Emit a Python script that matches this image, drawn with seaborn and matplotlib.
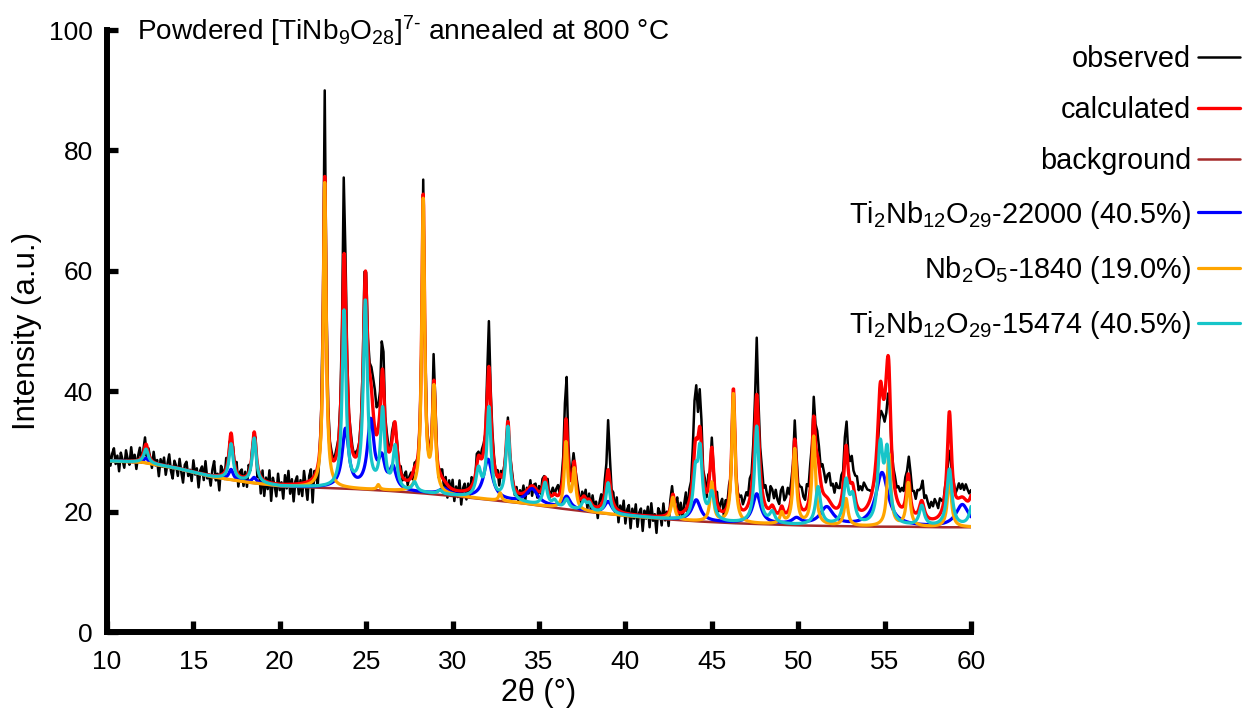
import numpy as np
import pandas as pd
import matplotlib
matplotlib.use("Agg")
import matplotlib.pyplot as plt
import seaborn as sns

# ---------------- data ----------------
x_limits = [10, 60]
y_limits = [0, 100]
x_ticks = [10, 15, 20, 25, 30, 35, 40, 45, 50, 55, 60]
y_ticks = [0, 20, 40, 60, 80, 100]

# background polyline
bg_x = [10, 12, 14, 16, 18, 20, 22, 24, 26, 28, 30, 32, 34, 36, 38, 40, 42, 44, 46, 48, 50, 52, 54, 56, 58, 60]
bg_y = [28.4, 28.2, 27.2, 25.8, 24.9, 24.2, 24.0, 23.8, 23.5, 23.1, 22.6, 22.0, 21.4, 20.6, 19.9, 19.3,
        18.8, 18.4, 18.1, 17.9, 17.7, 17.6, 17.5, 17.5, 17.4, 17.4]

# Ti2Nb12O29-22000 phase peaks (position, height above background, FWHM)
blue_pos = [12.26, 17.18, 18.52, 23.8, 25.26, 25.9, 26.55, 29.5, 32.05, 34.6, 36.6, 39.0, 44.1, 47.6, 49.9, 51.65, 54.85, 59.5]
blue_hgt = [0.8, 1.7, 0.9, 9.7, 11.1, 4.5, 3.5, 1.0, 6.6, 2.5, 2.0, 2.0, 3.5, 4.9, 1.0, 3.0, 8.9, 3.7]
blue_fwhm = [0.3, 0.3, 0.3, 0.45, 0.45, 0.42, 0.45, 0.6, 0.6, 0.8, 0.5, 0.5, 0.6, 0.55, 0.6, 0.9, 0.85, 0.9]

# Nb2O5-1840 phase peaks
orange_pos = [22.6, 25.7, 28.3, 28.92, 32.75, 36.56, 37.04, 42.75, 45.0, 46.25, 49.05, 49.8, 50.9, 52.77, 55.25, 56.37, 58.75]
orange_hgt = [50.7, 0.8, 48.5, 17.0, 1.3, 10.9, 6.5, 3.7, 6.5, 21.6, 1.8, 12.5, 14.7, 4.5, 12.0, 7.2, 8.4]
orange_fwhm = [0.2, 0.18, 0.2, 0.22, 0.18, 0.22, 0.22, 0.24, 0.24, 0.22, 0.24, 0.24, 0.25, 0.26, 0.26, 0.26, 0.26]

# Ti2Nb12O29-15474 phase peaks
cyan_pos = [12.26, 17.18, 18.52, 23.72, 24.95, 25.95, 26.67, 27.8, 29.27, 31.5, 32.1, 33.2, 35.35, 35.9, 36.6,
            37.6, 37.9, 39.0, 44.05, 44.32, 45.0, 47.6, 48.5, 51.15, 52.77, 53.15, 54.75, 55.15, 57.15, 58.75, 60.1]
cyan_hgt = [2.3, 5.9, 7.4, 29.2, 31.0, 13.0, 7.0, 1.5, 0.6, 4.5, 14.9, 12.2, 3.8, 1.0, 1.5,
            1.5, 1.2, 5.1, 7.0, 11.0, 4.5, 16.1, 1.8, 6.3, 7.0, 4.2, 12.5, 11.5, 3.3, 9.5, 4.0]
cyan_fwhm = [0.3, 0.28, 0.28, 0.26, 0.28, 0.28, 0.28, 0.3, 0.3, 0.35, 0.28, 0.28, 0.3, 0.3, 0.3,
             0.3, 0.3, 0.28, 0.3, 0.3, 0.35, 0.3, 0.35, 0.35, 0.35, 0.35, 0.35, 0.35, 0.35, 0.35, 0.4]

# observed: extra intensity relative to calculated at peaks
obs_pos = [22.6, 23.72, 24.9, 25.5, 25.95, 28.3, 28.92, 32.1, 36.56, 37.04, 39.0, 44.05, 44.32, 47.6, 54.75, 55.15, 58.75]
obs_hgt = [14.0, 15.0, 3.3, 6.0, 5.5, 2.0, 4.5, 6.7, 8.7, 1.4, 7.7, 9.0, 4.5, 8.8, -4.5, -7.5, -8.0]
obs_fwhm = [0.14, 0.14, 0.16, 0.35, 0.16, 0.16, 0.16, 0.18, 0.18, 0.16, 0.2, 0.2, 0.2, 0.18, 0.3, 0.3, 0.3]

# observed residual noise, one value per 0.1 deg from 10.0 to 60.0
obs_noise = [
    0.4, 1.6, -0.8, 1.2, 2.1, -0.5, 0.9, -1.7, 1.4, 0.2,
    -1.1, 1.8, 0.3, -0.6, 2.3, -0.2, 1.0, -1.4, 0.7, 1.9,
    -0.9, 0.5, 1.5, -1.8, 0.8, 0.1, -1.2, 1.7, -0.4, 0.6,
    -2.0, 0.9, -0.3, 1.3, -1.5, 0.4, 2.0, -0.7, -1.9, 1.1,
    0.3, -1.3, 1.6, -0.5, -2.2, 0.8, 1.4, -0.9, 0.2, -1.6,
    1.9, -0.4, 0.7, -2.4, 0.5, 1.2, -1.0, 2.2, -0.6, 0.1,
    -1.7, 1.0, 2.4, -0.8, 0.3, -2.5, 1.5, 0.6, -1.1, 1.8,
    -0.7, 0.4, -1.4, 0.9, -0.2, 1.6, -2.0, 0.7, 1.2, -1.5,
    0.8, -1.9, 1.3, -0.6, 0.5, -0.3, 1.1, -2.3, 0.2, -2.8,
    1.4, -2.6, 0.6, -1.2, 2.0, -3.0, 0.9, -0.4, -2.1, 1.7,
    -1.0, 0.3, -2.4, 1.5, -0.7, 2.2, -1.6, 0.8, -2.9, 0.4,
    1.2, -1.8, 0.5, -2.2, 1.9, -0.6, -3.1, 0.7, 1.6, -4.2,
    0.6, -1.3, -3.5, -0.9, 0.5, 0.3, 0.2, -0.4, 0.3, 0.1,
    0.4, -0.3, 0.2, 0.5, -0.4, 0.3, 0.6, -0.2, 0.1, 0.3,
    -0.5, 0.6, 0.2, -0.3, 0.4, 0.2, -0.1, 0.3, 0.5, 0.2,
    0.3, 0.4, -0.2, 0.6, 0.8, 0.3, -0.3, 0.5, 0.2, 0.7,
    0.4, -0.6, 0.9, 0.2, -0.4, 1.1, 0.3, -0.5, 0.8, -0.2,
    1.0, -0.7, 0.5, 1.3, -0.9, 0.4, 0.7, -1.2, 0.6, 0.3,
    -0.5, 0.4, -1.5, 0.3, 0.5, 0.2, -0.3, 0.4, -1.0, 0.5,
    0.3, -0.6, -1.8, 0.5, 1.2, -1.4, 0.8, -2.2, 1.0, -0.7,
    1.5, -1.9, 0.6, -1.1, 1.7, -2.3, 0.4, 1.1, -1.6, 0.9,
    -1.2, 1.4, 0.3, -0.9, 1.8, 0.5, -0.4, 1.2, 0.6, -1.5,
    0.4, 0.8, -0.3, 0.6, 0.2, -0.5, 0.9, -1.8, 0.7, 0.3,
    0.5, -0.4, 0.6, -0.8, 0.9, 0.3, -1.1, 0.7, -1.3, 0.5,
    -0.6, 1.2, -1.5, 0.4, -0.9, 1.0, -1.7, 0.3, 0.8, -1.2,
    0.9, -0.5, 1.3, 0.4, -1.0, 1.6, -0.7, 0.5, 1.1, -0.3,
    0.8, 1.4, -0.6, 0.3, 0.5, -0.4, 0.7, 0.2, -0.8, 0.6,
    0.4, -0.7, 1.1, 0.6, -1.2, 0.9, -0.5, 1.3, -1.6, 0.8,
    -1.3, 1.5, -0.4, 0.7, -2.1, 0.3, 1.2, -1.8, 0.6, -0.9,
    0.5, 0.3, -0.6, 0.9, -1.4, 1.6, -2.2, 0.8, -0.5, 1.9,
    -1.8, 0.6, 1.4, -2.4, 0.9, -0.7, 1.7, -2.0, 0.4, 1.1,
    -2.6, 0.8, -0.5, 1.5, -1.9, 2.1, -0.8, 0.3, -2.8, 1.3,
    0.6, -1.6, 2.0, -0.9, 0.4, -2.3, 1.2, 1.8, -1.1, 0.7,
    2.2, -0.6, 1.5, -1.4, 0.9, 2.4, -2.0, 1.1, 0.3, 1.6,
    0.5, 0.8, -0.4, 0.6, 1.2, -0.5, 0.9, -1.3, 1.7, -0.8,
    1.4, 0.3, -1.0, 1.8, -0.6, 1.1, 2.0, -0.9, 1.5, 0.4,
    1.9, -0.7, 0.5, 0.2, -0.4, 0.6, 1.3, 2.1, 0.8, 1.6,
    2.4, 1.2, 2.9, 1.5, 2.2, 0.9, 0.6, 0.4, 1.7, 2.6,
    1.4, 3.0, 2.0, 1.1, 3.3, 2.5, 1.6, 3.6, 2.2, 1.3,
    2.8, 3.4, 1.9, 2.6, 3.9, 2.1, 2.7, 1.2, 3.1, 2.4,
    1.8, 2.9, 3.5, 2.2, 1.6, 3.8, 2.5, 4.1, 2.0, 3.2,
    2.7, 4.0, 3.1, 2.4, 4.4, 3.6, 2.3, 3.9, 4.6, 3.0,
    3.7, 2.5, 4.2, 3.3, 2.8, 3.9, 2.2, 3.5, 4.3, 2.9,
    3.6, 4.5, 2.8, 3.8, 4.9, 3.2, 4.1, 3.5, 4.7, 3.9,
    3.0, 2.4, 1.5, 0.8, 0.5, 0.2, 0.4, 0.6, 0.5, 1.2,
    0.8, 1.1, 0.9, 1.4, 2.0, 2.6, 3.1, 2.4, 3.3, 2.8,
    3.5, 2.7, 3.9, 2.2, 3.4, 4.1, 2.9, 3.6, 2.5, 3.8,
    3.1, 2.4, 3.7, 2.0, 3.3, 2.6, 1.9, 3.0, 2.3, 3.5,
    2.8, 1.8, 3.2, 2.5, 1.6, 2.9, 2.1, 1.3, 2.4, 1.9,
    2.7, 1.5, 2.3, 3.0, 1.8, 2.5, 1.6, 2.8, 2.1, 1.2,
    1.0,
]

labels = ["observed", "calculated", "background",
          r"Ti$_2$Nb$_{12}$O$_{29}$-22000 (40.5%)",
          r"Nb$_2$O$_5$-1840 (19.0%)",
          r"Ti$_2$Nb$_{12}$O$_{29}$-15474 (40.5%)"]
colors = ["#000000", "#FF0000", "#A52A2A", "#0000FF", "#FFA500", "#17C5C9"]
title_text = r"Powdered [TiNb$_9$O$_{28}$]$^{7\text{-}}$ annealed at 800 °C"


def peak_sum(x, pos, hgt, fwhm):
    xx = np.asarray(x)[:, None]
    p = np.asarray(pos)[None, :]
    h = np.asarray(hgt)[None, :]
    w = np.asarray(fwhm)[None, :] / 2.0
    return (h / (1.0 + ((xx - p) / w) ** 2)).sum(axis=1)


x = np.round(np.arange(10, 60.0001, 0.02), 3)
bg = np.interp(x, bg_x, bg_y)
blue = peak_sum(x, blue_pos, blue_hgt, blue_fwhm)
orange = peak_sum(x, orange_pos, orange_hgt, orange_fwhm)
cyan = peak_sum(x, cyan_pos, cyan_hgt, cyan_fwhm)
calc = bg + blue + orange + cyan

xo = np.round(np.arange(10, 60.0001, 0.1), 2)
bgo = np.interp(xo, bg_x, bg_y)
obs = (bgo + peak_sum(xo, blue_pos, blue_hgt, blue_fwhm) + peak_sum(xo, orange_pos, orange_hgt, orange_fwhm)
       + peak_sum(xo, cyan_pos, cyan_hgt, cyan_fwhm) + peak_sum(xo, obs_pos, obs_hgt, obs_fwhm)
       + np.asarray(obs_noise))

# ---------------- style ----------------
sns.set_style("ticks")
plt.rcParams['font.family'] = ['Liberation Sans', 'DejaVu Sans']
plt.rcParams['mathtext.fontset'] = 'custom'
plt.rcParams['mathtext.rm'] = 'Liberation Sans'
plt.rcParams['mathtext.it'] = 'Liberation Sans:italic'
plt.rcParams['mathtext.bf'] = 'Liberation Sans:bold'
plt.rcParams['mathtext.default'] = 'regular'
plt.rcParams['text.color'] = 'black'
plt.rcParams['axes.labelcolor'] = 'black'
plt.rcParams['xtick.color'] = 'black'
plt.rcParams['ytick.color'] = 'black'

fig = plt.figure(figsize=(12.48, 7.17), dpi=100)
ax = fig.add_axes([107 / 1248, 85 / 717, 864 / 1248, 602 / 717])

series = [(xo, obs, 1.8), (x, calc, 2.4), (x, bg, 1.8), (x, bg + blue, 2.3), (x, bg + orange, 2.3), (x, bg + cyan, 2.3)]
for (xx, yy, lw), lab, col in zip(series, labels, colors):
    df = pd.DataFrame({"two_theta": xx, "intensity": yy})
    sns.lineplot(data=df, x="two_theta", y="intensity", ax=ax, color=col, linewidth=lw,
                 label=lab, estimator=None, sort=False)

ax.set_xlim(*x_limits)
ax.set_ylim(*y_limits)
ax.set_xticks(x_ticks)
ax.set_yticks(y_ticks)
for s in ["top", "right"]:
    ax.spines[s].set_visible(False)
for s in ["left", "bottom"]:
    ax.spines[s].set_linewidth(4.3)
    ax.spines[s].set_color("black")
ax.tick_params(direction="in", length=8, width=3.8, labelsize=19, colors="black")
ax.tick_params(axis="x", pad=13)
ax.tick_params(axis="y", pad=10)
ax.set_xlabel("2θ (°)", fontsize=22, labelpad=3)
ax.set_ylabel("Intensity (a.u.)", fontsize=22.5)
ax.yaxis.set_label_coords((42 - 107) / 864, 0.5)

ax.text(0.035, 0.983, title_text, transform=ax.transAxes, fontsize=20.2, va="baseline", ha="left")

handles, labs = ax.get_legend_handles_labels()
ax.get_legend().remove()
fig.legend(handles, labs, loc="upper right", bbox_to_anchor=(0.9936, 0.937), frameon=False,
           markerfirst=False, fontsize=20.8, handlelength=1.45, handletextpad=0.25,
           labelspacing=0.8, borderaxespad=0, borderpad=0)

fig.savefig("out.png", dpi=100)
